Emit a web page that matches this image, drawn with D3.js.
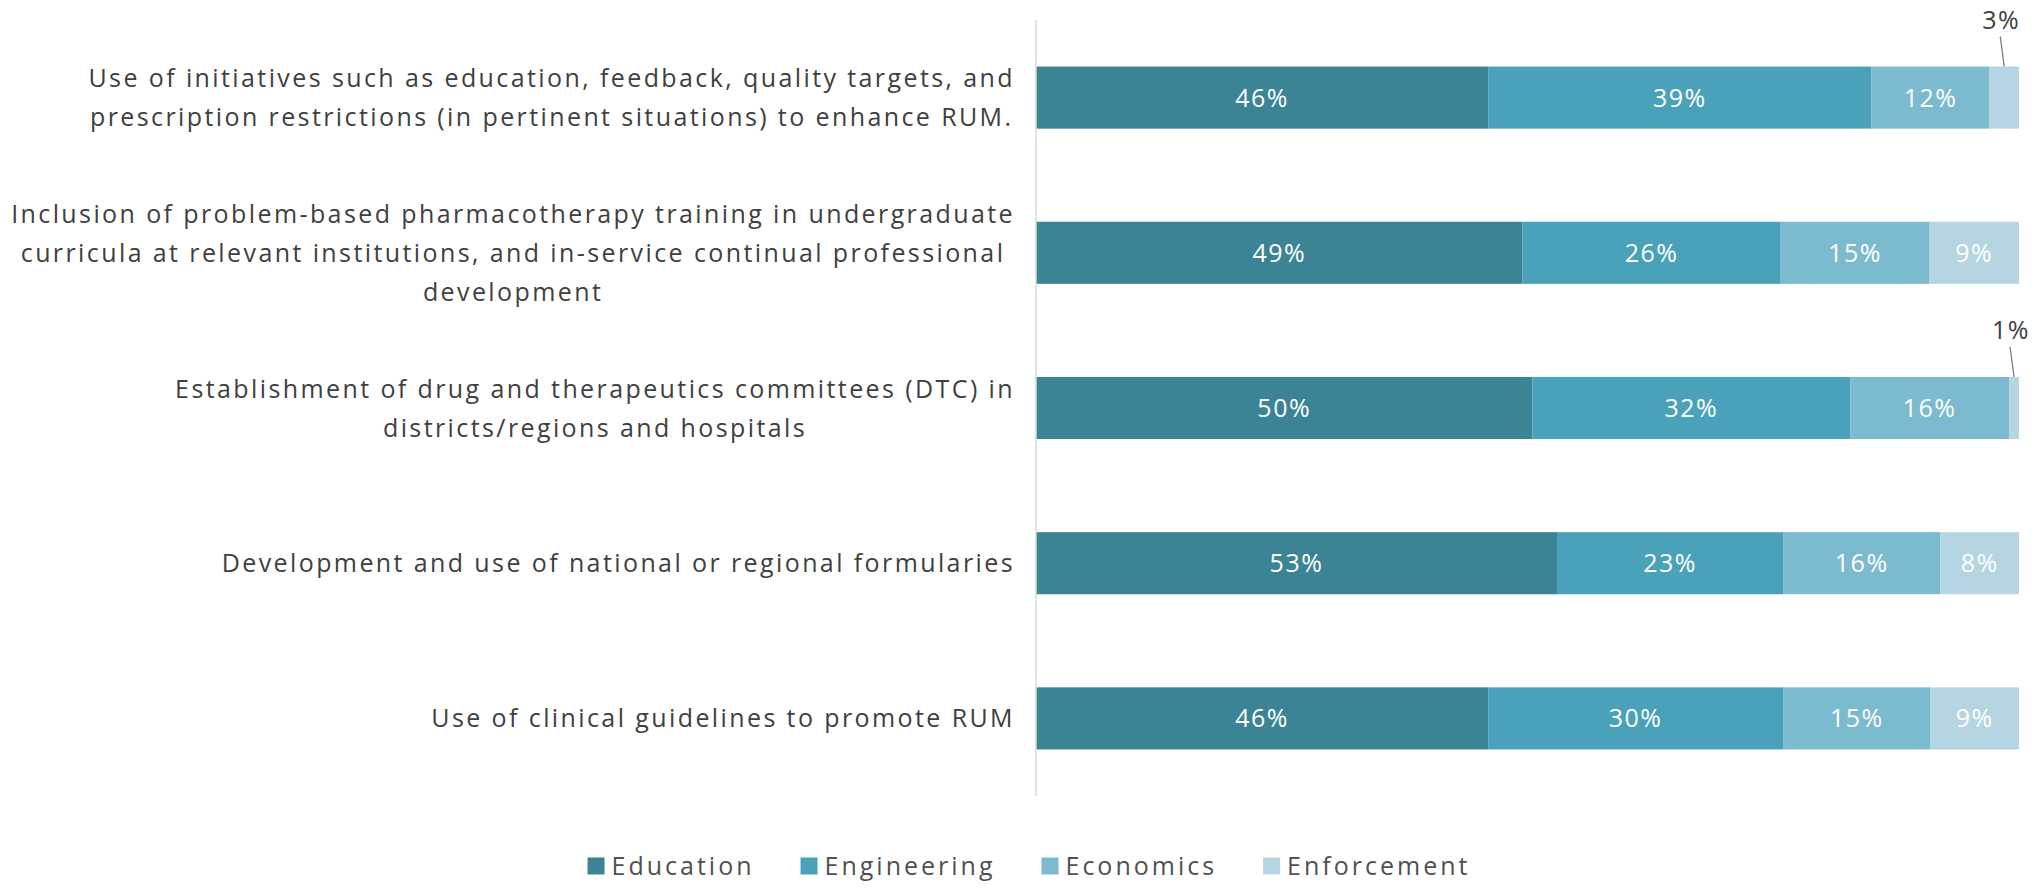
<!DOCTYPE html>
<html>
<head>
<meta charset="utf-8">
<script src="https://cdn.jsdelivr.net/npm/d3@7"></script>
<style>
  body { margin: 0; background: #fff; }
  svg { display: block; font-family: "Open Sans", sans-serif; }
</style>
</head>
<body>
<svg id="chart"></svg>
<script>
const categories = [
  ["Use of initiatives such as education, feedback, quality targets, and",
   "prescription restrictions (in pertinent situations) to enhance RUM."],
  ["Inclusion of problem-based pharmacotherapy training in undergraduate",
   "curricula at relevant institutions, and in-service continual professional",
   "development"],
  ["Establishment of drug and therapeutics committees (DTC) in",
   "districts/regions and hospitals"],
  ["Development and use of national or regional formularies"],
  ["Use of clinical guidelines to promote RUM"]
];
const seriesNames = ["Education", "Engineering", "Economics", "Enforcement"];
const education = [46, 49, 50, 53, 46];
const engineering = [39, 26, 32, 23, 30];
const economics = [12, 15, 16, 16, 15];
const enforcement = [3, 9, 1, 8, 9];
const palette = ["#3a8496", "#4aa2ba", "#7cbad0", "#b5d5e2"];

const width = 2038, height = 889;
const axisX = 1036, barRight = 2019, plotTop = 20, plotBottom = 796;
const labelRight = 1015;

const rows = categories.map((c, i) => ({
  idx: i,
  Education: education[i],
  Engineering: engineering[i],
  Economics: economics[i],
  Enforcement: enforcement[i]
}));

const svg = d3.select("#chart").attr("width", width).attr("height", height);

const x = d3.scaleLinear().domain([0, 1]).range([axisX, barRight]);
const y = d3.scaleBand()
  .domain(d3.range(categories.length))
  .range([plotTop, plotBottom])
  .paddingInner(0.6)
  .paddingOuter(0.3);
const color = d3.scaleOrdinal().domain(seriesNames).range(palette);

// 100% stacked, like the original
const stacked = d3.stack().keys(seriesNames).offset(d3.stackOffsetExpand)(rows);

// bars
const layers = svg.append("g").selectAll("g")
  .data(stacked)
  .join("g")
  .attr("fill", (s) => color(s.key));

layers.selectAll("rect")
  .data((s) => s.map((d) => Object.assign(d, { key: s.key })))
  .join("rect")
  .attr("x", (d) => x(d[0]))
  .attr("y", (d) => y(d.data.idx))
  .attr("width", (d) => x(d[1]) - x(d[0]))
  .attr("height", y.bandwidth());

// value labels
layers.each(function (s) {
  const g = d3.select(this);
  s.forEach((d) => {
    const v = d.data[s.key];
    const cx = (x(d[0]) + x(d[1])) / 2;
    const top = y(d.data.idx);
    if (v >= 5) {
      g.append("text")
        .attr("x", cx)
        .attr("y", top + y.bandwidth() / 2)
        .attr("dy", "0.36em")
        .attr("text-anchor", "middle")
        .attr("fill", "#fff")
        .style("font-size", "25px")
        .style("letter-spacing", "1.5px")
        .text(v + "%");
    } else {
      // small slices get a callout above the bar
      svg.append("line")
        .attr("x1", cx - 4).attr("y1", top - 30)
        .attr("x2", cx).attr("y2", top)
        .attr("stroke", "#7f7f7f").attr("stroke-width", 1.3);
      svg.append("text")
        .attr("x", cx - 3)
        .attr("y", top - 38)
        .attr("text-anchor", "middle")
        .attr("fill", "#404040")
        .style("font-size", "25px")
        .style("letter-spacing", "1.5px")
        .text(v + "%");
    }
  });
});

// vertical axis line
svg.append("line")
  .attr("x1", axisX).attr("x2", axisX)
  .attr("y1", plotTop).attr("y2", plotBottom)
  .attr("stroke", "#d9d9d9").attr("stroke-width", 1.5);

// category labels: centred lines, block right-aligned to the axis
const lineH = 39;
const labels = svg.append("g")
  .style("font-size", "25px")
  .style("letter-spacing", "2.4px")
  .attr("fill", "#404040");

categories.forEach((lines, i) => {
  const g = labels.append("g");
  const cy = y(i) + y.bandwidth() / 2;
  const texts = g.selectAll("text")
    .data(lines)
    .join("text")
    .attr("text-anchor", "middle")
    .attr("y", (d, k) => cy + (k - (lines.length - 1) / 2) * lineH)
    .attr("dy", "0.36em")
    .text((d) => d);
  const maxW = d3.max(texts.nodes(), (n) => n.getComputedTextLength());
  texts.attr("x", labelRight - maxW / 2);
});

// legend
const legend = svg.append("g")
  .style("font-size", "25px")
  .style("letter-spacing", "3px")
  .attr("fill", "#505050");
const items = legend.selectAll("g")
  .data(seriesNames)
  .join("g");
items.append("rect")
  .attr("width", 17).attr("height", 17)
  .attr("y", -8.5)
  .attr("fill", (d) => color(d));
items.append("text")
  .attr("x", 24)
  .attr("dy", "0.36em")
  .text((d) => d);
let cursor = 0;
const offsets = [];
items.each(function () {
  offsets.push(cursor);
  cursor += 24 + this.querySelector("text").getComputedTextLength() + 46;
});
const legendW = cursor - 46;
const legendStart = 1029 - legendW / 2;
items.attr("transform", (d, i) => `translate(${legendStart + offsets[i]}, 866)`);
</script>
</body>
</html>
